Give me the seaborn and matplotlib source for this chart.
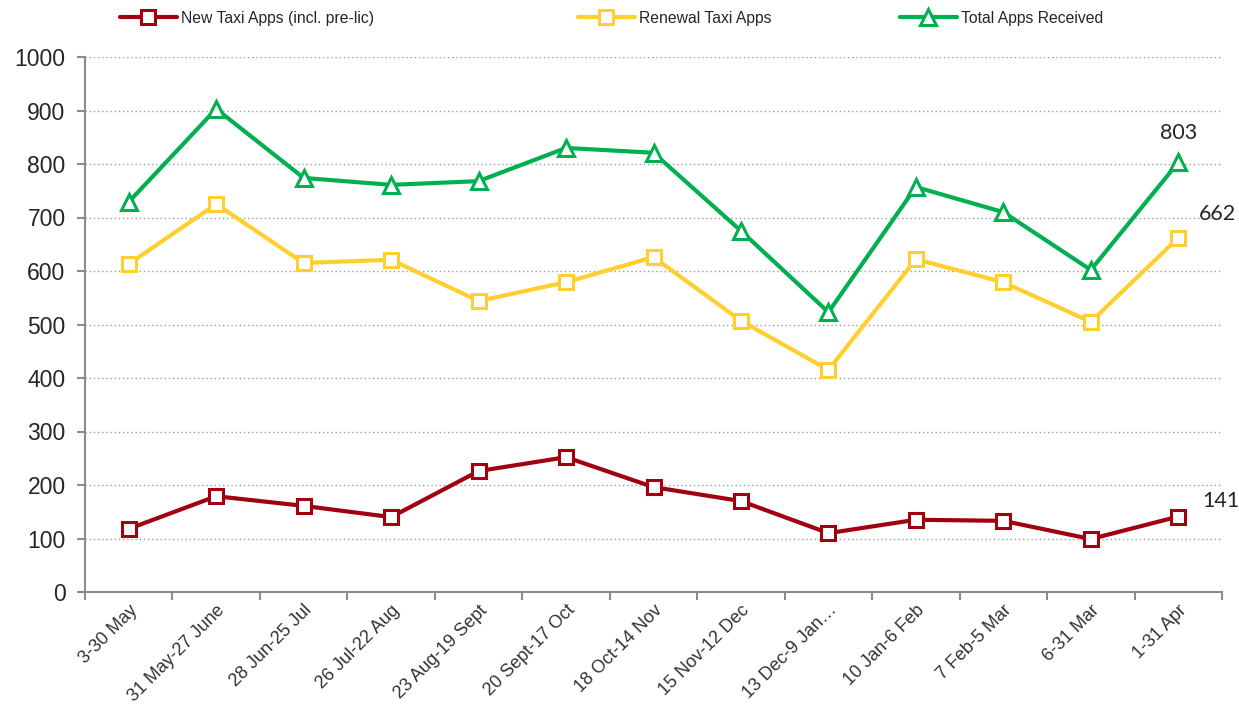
import matplotlib
matplotlib.use("Agg")
import matplotlib.pyplot as plt
from matplotlib.ticker import FixedLocator
import seaborn as sns
import pandas as pd

categories = ["3-30 May", "31 May-27 June", "28 Jun-25 Jul", "26 Jul-22 Aug",
              "23 Aug-19 Sept", "20 Sept-17 Oct", "18 Oct-14 Nov", "15 Nov-12 Dec",
              "13 Dec-9 Jan\u2026", "10 Jan-6 Feb", "7 Feb-5 Mar", "6-31 Mar", "1-31 Apr"]
new_apps = [118, 179, 161, 140, 226, 252, 196, 170, 110, 135, 133, 99, 141]
renewal_apps = [613, 725, 615, 621, 544, 579, 626, 507, 415, 622, 579, 505, 662]
total_apps = [729, 903, 774, 761, 768, 830, 821, 675, 523, 757, 710, 602, 803]
y_ticks = [0, 100, 200, 300, 400, 500, 600, 700, 800, 900, 1000]

sns.set_theme(style="white")
plt.rcParams["font.family"] = ["Liberation Sans", "DejaVu Sans"]

df = pd.DataFrame({"period": categories, "new": new_apps,
                   "renewal": renewal_apps, "total": total_apps})

fig = plt.figure(figsize=(12.39, 7.10), dpi=100)
ax = fig.add_axes([85/1239, 1-592/710, (1222-85)/1239, (592-57)/710])

series = [
    ("new", "New Taxi Apps (incl. pre-lic)", "#A0000F", "s"),
    ("renewal", "Renewal Taxi Apps", "#FFCF2E", "s"),
    ("total", "Total Apps Received", "#00B050", "^"),
]
for col, label, color, marker in series:
    sns.lineplot(data=df, x="period", y=col, ax=ax, color=color, label=label,
                 marker=marker, markersize=10 if marker == "s" else 11,
                 markerfacecolor="white", markeredgecolor=color,
                 markeredgewidth=2.2, linewidth=3, sort=False, zorder=3)

ax.set_xlim(-0.5, len(categories) - 0.5)
ax.set_ylim(0, 1000)
ax.set_yticks(y_ticks)
ax.set_xlabel("")
ax.set_ylabel("")

ax.yaxis.grid(True, linestyle=(0, (1, 2)), color="#9a9a9a", linewidth=1)
ax.xaxis.grid(False)
for s in ["top", "right"]:
    ax.spines[s].set_visible(False)
for s in ["left", "bottom"]:
    ax.spines[s].set_color("#8c8c8c")
    ax.spines[s].set_linewidth(1.5)

ax.set_xticks(range(len(categories)))
ax.set_xticklabels(categories, rotation=45, ha="right", rotation_mode="anchor",
                   fontsize=13, color="#333333")
ax.tick_params(axis="x", which="major", length=0, pad=7)
ax.xaxis.set_minor_locator(FixedLocator([i - 0.5 for i in range(len(categories) + 1)]))
ax.tick_params(axis="x", which="minor", length=6, width=1.5, color="#8c8c8c", bottom=True)
ax.tick_params(axis="y", length=6, width=1.5, color="#8c8c8c", labelsize=16.5,
               labelcolor="#262626", left=True, pad=8)

ax.get_legend().remove()
handles, labels = ax.get_legend_handles_labels()
legend_x = [120/1239, 578/1239, 900/1239]
for h, l, lx in zip(handles, labels, legend_x):
    leg = fig.legend([h], [l], loc="center left", bbox_to_anchor=(lx, 1 - 18/710),
                     frameon=False, fontsize=11.3, handlelength=3.6, handletextpad=0.3,
                     borderaxespad=0, borderpad=0, labelcolor="#262626")

last = len(categories) - 1
lab_font = dict(family=["Lato", "DejaVu Sans"], fontsize=15.5, color="#262626")
ax.annotate(str(total_apps[-1]), (last, total_apps[-1]), xytext=(0, 14),
            textcoords="offset points", ha="center", va="bottom", **lab_font)
ax.annotate(str(renewal_apps[-1]), (last, renewal_apps[-1]), xytext=(15, 10),
            textcoords="offset points", ha="left", va="bottom", **lab_font)
ax.annotate(str(new_apps[-1]), (last, new_apps[-1]), xytext=(17, 4),
            textcoords="offset points", ha="left", va="bottom",
            annotation_clip=False, **lab_font)

fig.savefig("out.png", dpi=100)
